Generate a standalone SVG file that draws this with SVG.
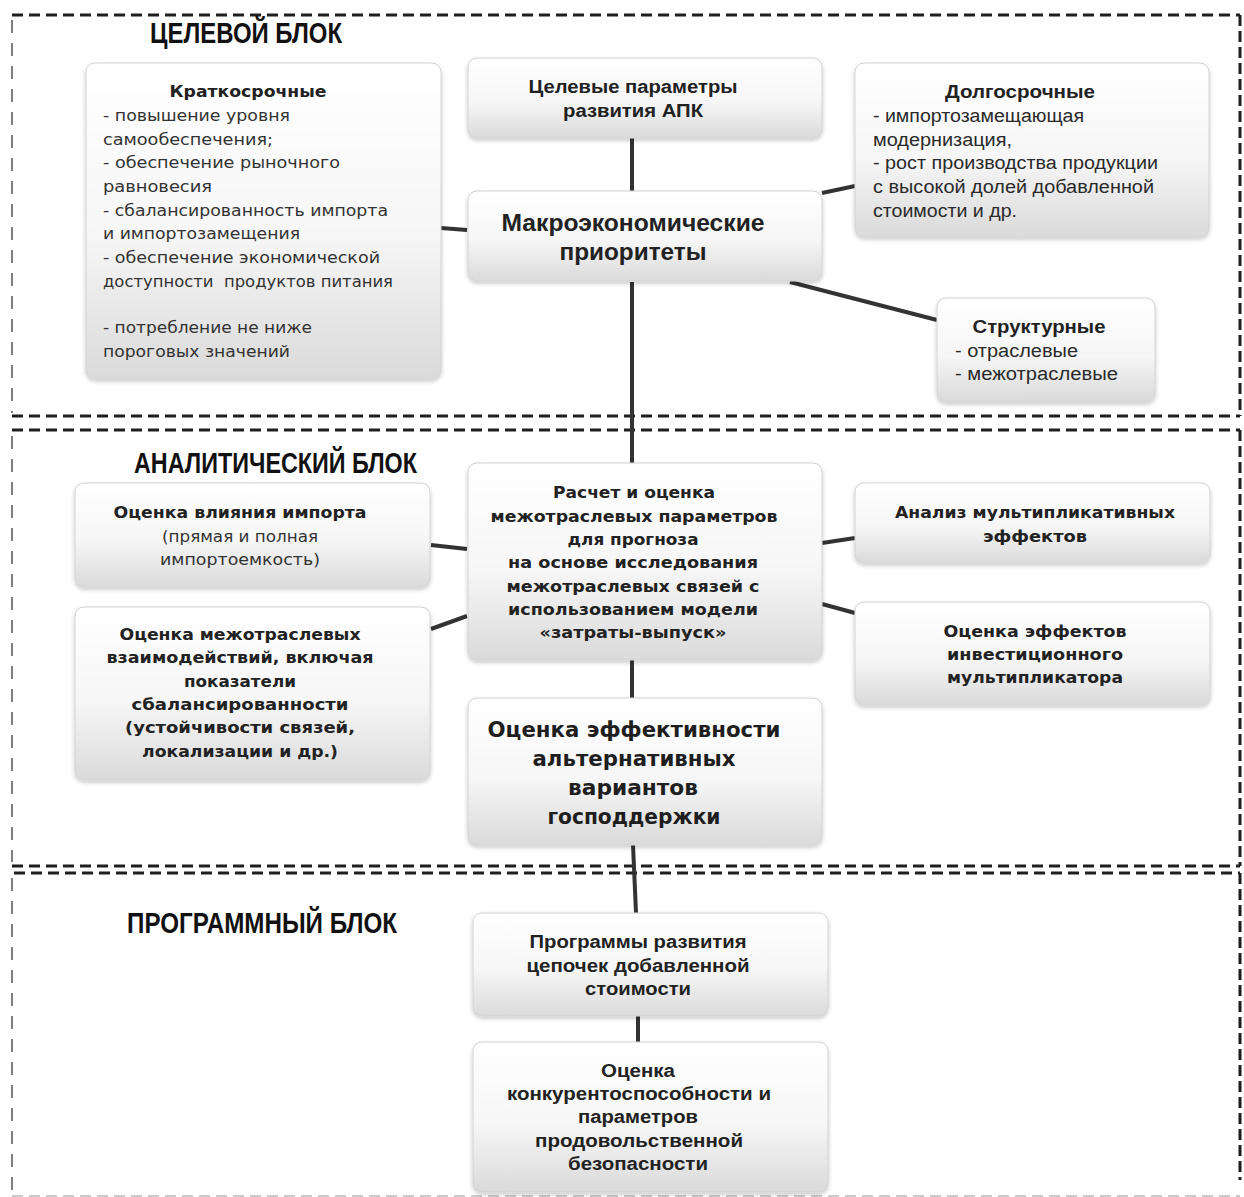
<svg xmlns="http://www.w3.org/2000/svg" width="1244" height="1197" viewBox="0 0 1244 1197">
<defs>
<linearGradient id="g" x1="0" y1="0" x2="0" y2="1">
<stop offset="0" stop-color="#ffffff"/>
<stop offset="0.55" stop-color="#f6f6f6"/>
<stop offset="1" stop-color="#dadada"/>
</linearGradient>
<filter id="sh" x="-5%" y="-5%" width="110%" height="115%">
<feDropShadow dx="0" dy="2" stdDeviation="2" flood-color="#000" flood-opacity="0.22"/>
</filter>
<style>
.bh{stroke:#1e1e1e;stroke-width:3;stroke-dasharray:11 6;fill:none}
.bl{stroke:#555;stroke-width:1.5;stroke-dasharray:13 10;fill:none}
.br{stroke:#1e1e1e;stroke-width:3;stroke-dasharray:11 5;fill:none}
.bf{stroke:#bbb;stroke-width:1.5;stroke-dasharray:11 6;fill:none}
.box{fill:url(#g);stroke:#d2d2d2;stroke-width:1;filter:url(#sh)}
.conn{stroke:#333;stroke-width:4;fill:none;stroke-linecap:butt}
.t{font-family:"Liberation Sans",Arial,sans-serif;font-weight:bold;font-size:29px;fill:#111}
.n{font-family:"Liberation Sans",Arial,sans-serif;font-weight:bold;font-size:18px;fill:#222}
.nr{font-family:"Liberation Sans",Arial,sans-serif;font-size:18px;fill:#2a2a2a}
.w{font-family:"DejaVu Sans",Verdana,sans-serif;font-size:16px;fill:#333}
.wb{font-family:"DejaVu Sans",Verdana,sans-serif;font-size:16px;font-weight:bold;fill:#222}
.big{font-family:"DejaVu Sans",Verdana,sans-serif;font-size:21px;font-weight:bold;fill:#1e1e1e}
.m{text-anchor:middle}
</style>
</defs>
<rect x="0" y="0" width="1244" height="1197" fill="#fff"/>

<g id="blocks">
<line class="bh" x1="12" y1="15" x2="1240" y2="15"/>
<line class="bl" x1="12" y1="20" x2="12" y2="413"/>
<line class="br" x1="1240" y1="15" x2="1240" y2="416"/>
<line class="bh" x1="12" y1="416" x2="1240" y2="416"/>
<line class="bh" x1="12" y1="430" x2="1240" y2="430"/>
<line class="bl" x1="12" y1="436" x2="12" y2="862"/>
<line class="br" x1="1240" y1="430" x2="1240" y2="866"/>
<line class="bh" x1="12" y1="866" x2="1240" y2="866"/>
<line class="bh" x1="14" y1="873" x2="1240" y2="873"/>
<line class="bl" x1="12" y1="878" x2="12" y2="1194"/>
<line class="br" x1="1240" y1="873" x2="1240" y2="1180"/>
<line class="bf" x1="12" y1="1196" x2="1240" y2="1196"/>
<text class="t" x="150" y="43" textLength="192" lengthAdjust="spacingAndGlyphs">ЦЕЛЕВОЙ БЛОК</text>
<text class="t" x="134" y="473" textLength="283" lengthAdjust="spacingAndGlyphs">АНАЛИТИЧЕСКИЙ БЛОК</text>
<text class="t" x="127" y="933" textLength="270" lengthAdjust="spacingAndGlyphs">ПРОГРАММНЫЙ БЛОК</text>
</g>

<g id="connectors">
<line class="conn" x1="632" y1="137" x2="632" y2="191"/>
<line class="conn" x1="441" y1="228" x2="467" y2="230"/>
<line class="conn" x1="822" y1="193" x2="855" y2="186"/>
<line class="conn" x1="790" y1="282" x2="937" y2="320"/>
<line class="conn" x1="632" y1="282" x2="632" y2="463"/>
<line class="conn" x1="431" y1="545" x2="467" y2="549"/>
<line class="conn" x1="431" y1="629" x2="467" y2="616"/>
<line class="conn" x1="822" y1="543" x2="855" y2="538"/>
<line class="conn" x1="822" y1="604" x2="855" y2="613"/>
<line class="conn" x1="632" y1="660" x2="632" y2="698"/>
<line class="conn" x1="633" y1="845" x2="636" y2="913"/>
<line class="conn" x1="638" y1="1016" x2="638" y2="1042"/>
</g>

<g id="n-short">
<rect class="box" x="86" y="63" width="355" height="316" rx="9"/>
<text class="wb m" x="248" y="97" textLength="157" lengthAdjust="spacingAndGlyphs">Краткосрочные</text>
<text class="w" x="103" y="121" textLength="187" lengthAdjust="spacingAndGlyphs">- повышение уровня</text>
<text class="w" x="103" y="145" textLength="170" lengthAdjust="spacingAndGlyphs">самообеспечения;</text>
<text class="w" x="103" y="168" textLength="237" lengthAdjust="spacingAndGlyphs">- обеспечение рыночного</text>
<text class="w" x="103" y="192" textLength="109" lengthAdjust="spacingAndGlyphs">равновесия</text>
<text class="w" x="103" y="216" textLength="285" lengthAdjust="spacingAndGlyphs">- сбалансированность импорта</text>
<text class="w" x="103" y="239" textLength="197" lengthAdjust="spacingAndGlyphs">и импортозамещения</text>
<text class="w" x="103" y="263" textLength="277" lengthAdjust="spacingAndGlyphs">- обеспечение экономической</text>
<text class="w" x="103" y="287" textLength="290" lengthAdjust="spacingAndGlyphs" xml:space="preserve">доступности  продуктов питания</text>
<text class="w" x="103" y="333" textLength="209" lengthAdjust="spacingAndGlyphs">- потребление не ниже</text>
<text class="w" x="103" y="357" textLength="187" lengthAdjust="spacingAndGlyphs">пороговых значений</text>
</g>

<g id="n-target">
<rect class="box" x="468" y="58" width="354" height="80" rx="9"/>
<text class="n m" x="633" y="93" textLength="209" lengthAdjust="spacingAndGlyphs">Целевые параметры</text>
<text class="n m" x="633" y="117" textLength="140" lengthAdjust="spacingAndGlyphs">развития АПК</text>
</g>

<g id="n-long">
<rect class="box" x="855" y="63" width="354" height="174" rx="9"/>
<text class="n m" x="1020" y="98" textLength="150" lengthAdjust="spacingAndGlyphs">Долгосрочные</text>
<text class="nr" x="873" y="122" textLength="211" lengthAdjust="spacingAndGlyphs">- импортозамещающая</text>
<text class="nr" x="873" y="146" textLength="139" lengthAdjust="spacingAndGlyphs">модернизация,</text>
<text class="nr" x="873" y="169" textLength="285" lengthAdjust="spacingAndGlyphs">- рост производства продукции</text>
<text class="nr" x="873" y="193" textLength="281" lengthAdjust="spacingAndGlyphs">с высокой долей добавленной</text>
<text class="nr" x="873" y="217" textLength="144" lengthAdjust="spacingAndGlyphs">стоимости и др.</text>
</g>

<g id="n-macro">
<rect class="box" x="468" y="191" width="354" height="90" rx="9"/>
<text class="n m" style="font-size:24px" x="633" y="231" textLength="263" lengthAdjust="spacingAndGlyphs">Макроэкономические</text>
<text class="n m" style="font-size:24px" x="633" y="260" textLength="147" lengthAdjust="spacingAndGlyphs">приоритеты</text>
</g>

<g id="n-struct">
<rect class="box" x="937" y="298" width="218" height="104" rx="9"/>
<text class="n m" x="1039" y="333" textLength="133" lengthAdjust="spacingAndGlyphs">Структурные</text>
<text class="nr" x="955" y="357" textLength="123" lengthAdjust="spacingAndGlyphs">- отраслевые</text>
<text class="nr" x="955" y="380" textLength="163" lengthAdjust="spacingAndGlyphs">- межотраслевые</text>
</g>

<g id="n-import">
<rect class="box" x="75" y="483" width="355" height="104" rx="9"/>
<text class="wb m" x="240" y="518" textLength="253" lengthAdjust="spacingAndGlyphs">Оценка влияния импорта</text>
<text class="w m" x="240" y="542" textLength="156" lengthAdjust="spacingAndGlyphs">(прямая и полная</text>
<text class="w m" x="240" y="565" textLength="160" lengthAdjust="spacingAndGlyphs">импортоемкость)</text>
</g>

<g id="n-inter">
<rect class="box" x="75" y="607" width="355" height="173" rx="9"/>
<text class="wb m" x="240" y="640" textLength="241" lengthAdjust="spacingAndGlyphs">Оценка межотраслевых</text>
<text class="wb m" x="240" y="663" textLength="267" lengthAdjust="spacingAndGlyphs">взаимодействий, включая</text>
<text class="wb m" x="240" y="687" textLength="112" lengthAdjust="spacingAndGlyphs">показатели</text>
<text class="wb m" x="240" y="710" textLength="217" lengthAdjust="spacingAndGlyphs">сбалансированности</text>
<text class="wb m" x="240" y="733" textLength="230" lengthAdjust="spacingAndGlyphs">(устойчивости связей,</text>
<text class="wb m" x="240" y="757" textLength="196" lengthAdjust="spacingAndGlyphs">локализации и др.)</text>
</g>

<g id="n-calc">
<rect class="box" x="468" y="463" width="354" height="197" rx="9"/>
<text class="wb m" x="634" y="498" textLength="162" lengthAdjust="spacingAndGlyphs">Расчет и оценка</text>
<text class="wb m" x="634" y="522" textLength="287" lengthAdjust="spacingAndGlyphs">межотраслевых параметров</text>
<text class="wb m" x="633" y="545" textLength="131" lengthAdjust="spacingAndGlyphs">для прогноза</text>
<text class="wb m" x="633" y="568" textLength="250" lengthAdjust="spacingAndGlyphs">на основе исследования</text>
<text class="wb m" x="633" y="592" textLength="253" lengthAdjust="spacingAndGlyphs">межотраслевых связей с</text>
<text class="wb m" x="633" y="615" textLength="250" lengthAdjust="spacingAndGlyphs">использованием модели</text>
<text class="wb m" x="633" y="638" textLength="187" lengthAdjust="spacingAndGlyphs">«затраты-выпуск»</text>
</g>

<g id="n-mult">
<rect class="box" x="855" y="483" width="355" height="80" rx="9"/>
<text class="wb m" x="1035" y="518" textLength="280" lengthAdjust="spacingAndGlyphs">Анализ мультипликативных</text>
<text class="wb m" x="1035" y="542" textLength="104" lengthAdjust="spacingAndGlyphs">эффектов</text>
</g>

<g id="n-invest">
<rect class="box" x="855" y="602" width="355" height="103" rx="9"/>
<text class="wb m" x="1035" y="637" textLength="183" lengthAdjust="spacingAndGlyphs">Оценка эффектов</text>
<text class="wb m" x="1035" y="660" textLength="176" lengthAdjust="spacingAndGlyphs">инвестиционного</text>
<text class="wb m" x="1035" y="683" textLength="176" lengthAdjust="spacingAndGlyphs">мультипликатора</text>
</g>

<g id="n-eff">
<rect class="box" x="468" y="698" width="354" height="147" rx="9"/>
<text class="big m" x="634" y="737" textLength="293" lengthAdjust="spacingAndGlyphs">Оценка эффективности</text>
<text class="big m" x="634" y="766" textLength="203" lengthAdjust="spacingAndGlyphs">альтернативных</text>
<text class="big m" x="633" y="795" textLength="130" lengthAdjust="spacingAndGlyphs">вариантов</text>
<text class="big m" x="634" y="824" textLength="173" lengthAdjust="spacingAndGlyphs">господдержки</text>
</g>

<g id="n-prog">
<rect class="box" x="473" y="913" width="355" height="103" rx="9"/>
<text class="n m" x="638" y="948" textLength="217" lengthAdjust="spacingAndGlyphs">Программы развития</text>
<text class="n m" x="638" y="972" textLength="223" lengthAdjust="spacingAndGlyphs">цепочек добавленной</text>
<text class="n m" x="638" y="995" textLength="106" lengthAdjust="spacingAndGlyphs">стоимости</text>
</g>

<g id="n-comp">
<rect class="box" x="473" y="1042" width="355" height="150" rx="9"/>
<text class="n m" x="638" y="1077" textLength="74" lengthAdjust="spacingAndGlyphs">Оценка</text>
<text class="n m" x="639" y="1100" textLength="264" lengthAdjust="spacingAndGlyphs">конкурентоспособности и</text>
<text class="n m" x="638" y="1123" textLength="120" lengthAdjust="spacingAndGlyphs">параметров</text>
<text class="n m" x="639" y="1147" textLength="208" lengthAdjust="spacingAndGlyphs">продовольственной</text>
<text class="n m" x="638" y="1170" textLength="140" lengthAdjust="spacingAndGlyphs">безопасности</text>
</g>
</svg>
